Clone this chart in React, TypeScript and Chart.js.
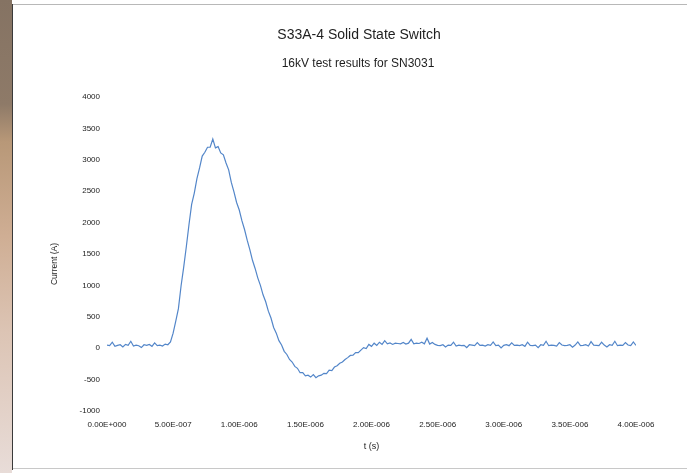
import React, { useEffect, useRef } from "react";
import { Chart, registerables } from "chart.js";

Chart.register(...registerables);

const TITLE = "S33A-4 Solid State Switch";
const SUBTITLE = "16kV test results for SN3031";
const X_AXIS_LABEL = "t (s)";
const Y_AXIS_LABEL = "Current (A)";

const SAMPLE_INTERVAL_S = 2e-8;
const X_MIN = 0;
const X_MAX = 4e-6;
const X_STEP = 5e-7;
const Y_MIN = -1000;
const Y_MAX = 4000;
const Y_STEP = 500;

// Current samples (A), one every SAMPLE_INTERVAL_S starting at t = 0
const currentA = [
  50, 40, 95, 30, 45, 55, 20, 60, 45, 110,
  35, 50, 40, 10, 55, 45, 60, 30, 85, 40,
  50, 35, 65, 55, 100, 240, 430, 630, 990, 1290,
  1620, 1970, 2290, 2470, 2700, 2870, 3060, 3120, 3200, 3200,
  3330, 3190, 3210, 3110, 3080, 2950, 2840, 2640, 2490, 2320,
  2200, 2030, 1890, 1720, 1570, 1400, 1270, 1120, 1000, 850,
  740, 590, 480, 330, 240, 120, 50, -50, -100, -180,
  -220, -290, -320, -390, -390, -440, -430, -460, -420, -470,
  -440, -430, -400, -405, -350, -355, -300, -280, -240, -220,
  -180, -150, -115, -110, -70, -70, -30, 10, -5, 60,
  30, 80, 45, 95, 60, 120, 70, 85, 60, 80,
  75, 70, 90, 65, 80, 140, 70, 80, 75, 95,
  70, 160, 65, 90, 60, 45, 40, 55, 20, 50,
  45, 95, 35, 50, 40, 45, 10, 55, 50, 40,
  90, 45, 50, 35, 55, 45, 100, 40, 50, 5,
  45, 55, 40, 85, 45, 50, 40, 55, 30, 95,
  45, 40, 50, 10, 55, 45, 110, 40, 50, 45,
  35, 90, 50, 40, 45, 55, 15, 50, 100, 40,
  45, 55, 35, 105, 50, 45, 40, 95, 50, 20,
  55, 45, 110, 40, 50, 45, 90, 50, 40, 100,
  45,
];

const FONT = "'Liberation Sans', Arial, Helvetica, sans-serif";

function formatSci(v: number): string {
  const s = v.toExponential(2);
  const [mant, expRaw] = s.split("e");
  const n = parseInt(expRaw, 10);
  const sign = n < 0 ? "-" : "+";
  const digits = String(Math.abs(n)).padStart(3, "0");
  return `${mant}E${sign}${digits}`;
}

const textPlugin = {
  id: "refTexts",
  afterDraw(chart: any) {
    const ctx = chart.ctx as CanvasRenderingContext2D;
    const area = chart.chartArea;
    ctx.save();
    ctx.fillStyle = "#1e1e1e";
    ctx.textAlign = "center";
    ctx.textBaseline = "middle";
    ctx.font = `14px ${FONT}`;
    ctx.fillText(TITLE, 359, 35);
    ctx.font = `12px ${FONT}`;
    ctx.fillText(SUBTITLE, 358, 64);
    ctx.font = `9px ${FONT}`;
    ctx.fillText(X_AXIS_LABEL, (area.left + area.right) / 2, 447);
    ctx.translate(55, 264);
    ctx.rotate(-Math.PI / 2);
    ctx.font = `8.5px ${FONT}`;
    ctx.fillText(Y_AXIS_LABEL, 0, 0);
    ctx.restore();
  },
};

function ChartView() {
  const ref = useRef<HTMLCanvasElement | null>(null);
  useEffect(() => {
    if (!ref.current) return;
    const points = currentA.map((y, i) => ({ x: i * SAMPLE_INTERVAL_S, y }));
    const chart = new Chart(ref.current, {
      type: "line",
      data: {
        datasets: [
          {
            label: "Current",
            data: points,
            borderColor: "#5386c9",
            borderWidth: 1.2,
            pointRadius: 0,
            tension: 0,
            fill: false,
          },
        ],
      },
      options: {
        animation: false,
        responsive: false,
        maintainAspectRatio: false,
        events: [],
        layout: { padding: { top: 97, right: 51, bottom: 0, left: 0 } },
        plugins: {
          legend: { display: false },
          title: { display: false },
          tooltip: { enabled: false },
        },
        scales: {
          x: {
            type: "linear",
            min: X_MIN,
            max: X_MAX,
            border: { display: false },
            grid: { display: false, drawTicks: false },
            afterFit: (s: any) => {
              s.height = 62;
            },
            ticks: {
              stepSize: X_STEP,
              padding: 9,
              color: "#222",
              font: { family: FONT, size: 8 },
              maxRotation: 0,
              autoSkip: false,
              callback: (v: any) => formatSci(Number(v)),
            },
          },
          y: {
            type: "linear",
            min: Y_MIN,
            max: Y_MAX,
            border: { display: false },
            grid: { display: false, drawTicks: false },
            afterFit: (s: any) => {
              s.width = 107;
            },
            ticks: {
              stepSize: Y_STEP,
              padding: 7,
              color: "#222",
              font: { family: FONT, size: 8 },
              callback: (v: any) => String(Math.round(Number(v))),
            },
          },
        },
      },
      plugins: [textPlugin],
    });
    return () => chart.destroy();
  }, []);
  return <canvas ref={ref} width={687} height={473} style={{ position: "absolute", left: 0, top: 0 }} />;
}

export default function App() {
  return (
    <div
      style={{
        position: "fixed",
        left: 0,
        top: 0,
        width: 687,
        height: 473,
        background: "#ffffff",
        overflow: "hidden",
      }}
    >
      <div
        style={{
          position: "absolute",
          left: 0,
          top: 0,
          width: 12,
          height: 473,
          background:
            "linear-gradient(to bottom, #857363 0%, #8e7a68 22%, #b89878 30%, #cfae94 50%, #dcc4b4 70%, #e8dcd8 100%)",
        }}
      />
      <div style={{ position: "absolute", left: 12, top: 4, width: 1, height: 466, background: "#3a3a3a" }} />
      <div style={{ position: "absolute", left: 13, top: 4, width: 674, height: 1, background: "#b8b8b8" }} />
      <div style={{ position: "absolute", left: 13, top: 468, width: 674, height: 1, background: "#c8c8c8" }} />
      <ChartView />
    </div>
  );
}
